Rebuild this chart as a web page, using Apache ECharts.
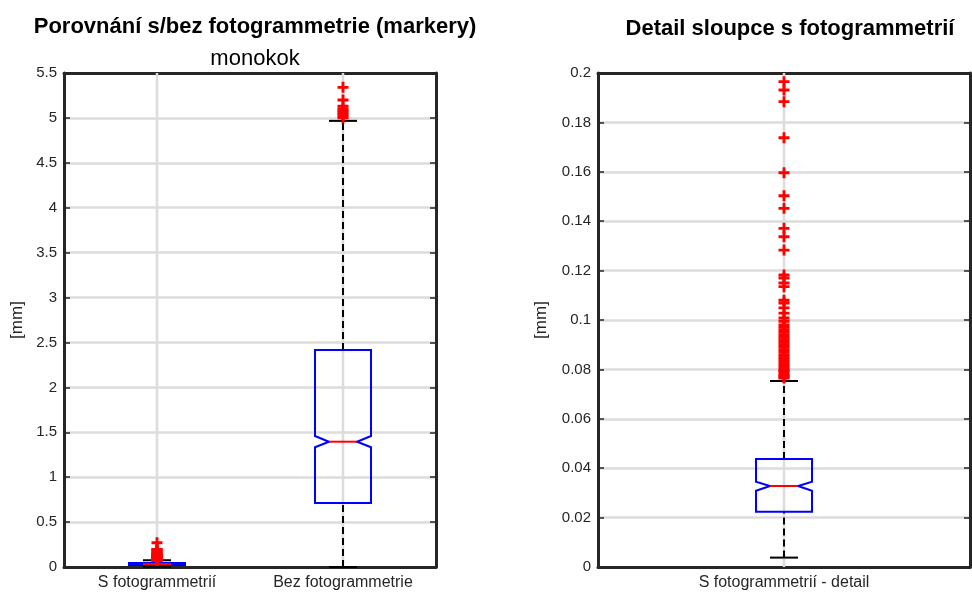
<!DOCTYPE html>
<html>
<head>
<meta charset="utf-8">
<title>Porovnání s/bez fotogrammetrie</title>
<script src="https://cdn.jsdelivr.net/npm/echarts@6/dist/echarts.min.js"></script>
<style>
  html, body { margin: 0; padding: 0; background: #fff; }
  #chart { width: 972px; height: 592px; }
</style>
</head>
<body>
<div id="chart"></div>
<script>
// kategorie
const leftCategories = ["S fotogrammetrií", "Bez fotogrammetrie"];
const rightCategories = ["S fotogrammetrií - detail"];

// popisky os y
const leftTicks = [0, 0.5, 1, 1.5, 2, 2.5, 3, 3.5, 4, 4.5, 5, 5.5];
const rightTicks = [0, 0.02, 0.04, 0.06, 0.08, 0.1, 0.12, 0.14, 0.16, 0.18, 0.2];

// [dolní vous, Q1, medián, Q3, horní vous]
const sFotoStats = [0.0038, 0.0224, 0.0328, 0.0437, 0.0753];
const bezFotoStats = [0, 0.713, 1.395, 2.416, 4.967];
// zářez (notch) [dolní, horní]
const sFotoNotch = [0.0309, 0.0345];
const bezFotoNotch = [1.333, 1.459];

// odlehlé hodnoty
const sFotoOutliers = [
  0.0765, 0.077, 0.0775, 0.078, 0.079, 0.0795, 0.08, 0.081, 0.082, 0.083,
  0.084, 0.085, 0.086, 0.087, 0.088, 0.089, 0.09, 0.091, 0.092, 0.093,
  0.094, 0.095, 0.096, 0.097, 0.098, 0.0995, 0.1008, 0.1028, 0.1049, 0.1069,
  0.108, 0.1135, 0.115, 0.117, 0.1182, 0.1283, 0.1337, 0.1371, 0.1452, 0.1503,
  0.1596, 0.1738, 0.1884, 0.1931, 0.1965, 0.27,
];
const bezFotoOutliers = [5.0, 5.02, 5.04, 5.06, 5.08, 5.1, 5.13, 5.2, 5.34];

const axisColor = "#262626";
const gridColor = "#dcdcdc";
const fontFamily = "Liberation Sans, Arial, sans-serif";
const boxHalf = 28; // polovina šířky krabice v px
const capHalf = 14; // polovina šířky konce vousu
// křížek jako symbol
const plusSymbol = "path://M3.7,0H6.3V3.7H10V6.3H6.3V10H3.7V6.3H0V3.7H3.7Z";

// vykreslení krabice se zářezem
function renderBox(params, api) {
  const cat = api.value(0);
  const low = api.coord([cat, api.value(1)]);
  const q1 = api.coord([cat, api.value(2)]);
  const med = api.coord([cat, api.value(3)]);
  const q3 = api.coord([cat, api.value(4)]);
  const high = api.coord([cat, api.value(5)]);
  const nLo = api.coord([cat, api.value(6)]);
  const nHi = api.coord([cat, api.value(7)]);
  const cx = med[0];
  const inner = boxHalf / 2;
  const cs = params.coordSys;
  const whisker = { stroke: "#000", lineWidth: 2, lineDash: [7, 4] };
  return {
    type: "group",
    children: [
      // svislá mřížka
      {
        type: "line",
        shape: { x1: cx, y1: cs.y, x2: cx, y2: cs.y + cs.height },
        style: { stroke: gridColor, lineWidth: 2.5 },
      },
      { type: "line", shape: { x1: cx, y1: q3[1], x2: cx, y2: high[1] }, style: whisker },
      { type: "line", shape: { x1: cx, y1: low[1], x2: cx, y2: q1[1] }, style: whisker },
      {
        type: "line",
        shape: { x1: cx - capHalf, y1: high[1], x2: cx + capHalf, y2: high[1] },
        style: { stroke: "#000", lineWidth: 2 },
      },
      {
        type: "line",
        shape: { x1: cx - capHalf, y1: low[1], x2: cx + capHalf, y2: low[1] },
        style: { stroke: "#000", lineWidth: 2 },
      },
      {
        type: "polygon",
        shape: {
          points: [
            [cx - boxHalf, q3[1]],
            [cx + boxHalf, q3[1]],
            [cx + boxHalf, nHi[1]],
            [cx + inner, med[1]],
            [cx + boxHalf, nLo[1]],
            [cx + boxHalf, q1[1]],
            [cx - boxHalf, q1[1]],
            [cx - boxHalf, nLo[1]],
            [cx - inner, med[1]],
            [cx - boxHalf, nHi[1]],
          ],
        },
        style: { fill: "none", stroke: "#0000ff", lineWidth: 2 },
      },
      {
        type: "line",
        shape: { x1: cx - inner, y1: med[1], x2: cx + inner, y2: med[1] },
        style: { stroke: "#ff0000", lineWidth: 2 },
      },
    ],
  };
}

function boxItem(cat, stats, notch) {
  return [cat].concat(stats, notch);
}

function outlierItems(cat, values) {
  return values.map(function (v) {
    return [cat, v];
  });
}

function catAxis(gridIndex, data, position, showLabel) {
  return {
    type: "category",
    gridIndex: gridIndex,
    position: position,
    data: data,
    axisLine: { show: true, onZero: false, lineStyle: { color: axisColor, width: 3 } },
    axisTick: { show: true, inside: true, length: 6, alignWithLabel: true, lineStyle: { color: axisColor, width: 1.5 } },
    axisLabel: { show: showLabel, color: axisColor, fontSize: 16, fontFamily: fontFamily, margin: 8 },
    splitLine: { show: false },
  };
}

function valAxis(gridIndex, ticks, position, main, nameGap) {
  return {
    type: "value",
    gridIndex: gridIndex,
    position: position,
    min: ticks[0],
    max: ticks[ticks.length - 1],
    interval: ticks[1] - ticks[0],
    name: main ? "[mm]" : "",
    nameLocation: "middle",
    nameGap: nameGap,
    nameTextStyle: { color: axisColor, fontSize: 17, fontFamily: fontFamily },
    axisLine: { show: true, onZero: false, lineStyle: { color: axisColor, width: 3 } },
    axisTick: { show: true, inside: true, length: 6, lineStyle: { color: axisColor, width: 1.5 } },
    axisLabel: { show: main, color: axisColor, fontSize: 15, fontFamily: fontFamily, margin: 7 },
    splitLine: { show: main, lineStyle: { color: gridColor, width: 2.5 } },
  };
}

let myChart = echarts.init(document.getElementById("chart"));
let option = {
  backgroundColor: "#fff",
  animation: false,
  title: [
    {
      text: "Porovnání s/bez fotogrammetrie (markery)",
      left: 250,
      top: 11,
      textAlign: "center",
      textStyle: { fontSize: 22, fontWeight: "bold", color: "#000", fontFamily: fontFamily },
    },
    {
      text: "monokok",
      left: 250,
      top: 43,
      textAlign: "center",
      textStyle: { fontSize: 22, fontWeight: "normal", color: "#000", fontFamily: fontFamily },
    },
    {
      text: "Detail sloupce s fotogrammetrií",
      left: 785,
      top: 13,
      textAlign: "center",
      textStyle: { fontSize: 22, fontWeight: "bold", color: "#000", fontFamily: fontFamily },
    },
  ],
  grid: [
    { left: 64, right: 536, top: 73, bottom: 25 },
    { left: 598, right: 2, top: 73, bottom: 25 },
  ],
  xAxis: [
    catAxis(0, leftCategories, "bottom", true),
    catAxis(0, leftCategories, "top", false),
    catAxis(1, rightCategories, "bottom", true),
    catAxis(1, rightCategories, "top", false),
  ],
  yAxis: [
    valAxis(0, leftTicks, "left", true, 38),
    valAxis(0, leftTicks, "right", false, 0),
    valAxis(1, rightTicks, "left", true, 48),
    valAxis(1, rightTicks, "right", false, 0),
  ],
  series: [
    {
      type: "custom",
      xAxisIndex: 0,
      yAxisIndex: 0,
      renderItem: renderBox,
      encode: { x: 0, y: [1, 2, 3, 4, 5, 6, 7] },
      data: [boxItem(0, sFotoStats, sFotoNotch), boxItem(1, bezFotoStats, bezFotoNotch)],
      z: 2,
    },
    {
      type: "scatter",
      xAxisIndex: 0,
      yAxisIndex: 0,
      symbol: plusSymbol,
      symbolSize: 11,
      itemStyle: { color: "#ff0000", opacity: 1 },
      clip: true,
      data: outlierItems(0, sFotoOutliers).concat(outlierItems(1, bezFotoOutliers)),
      z: 3,
    },
    {
      type: "custom",
      xAxisIndex: 2,
      yAxisIndex: 2,
      renderItem: renderBox,
      encode: { x: 0, y: [1, 2, 3, 4, 5, 6, 7] },
      data: [boxItem(0, sFotoStats, sFotoNotch)],
      z: 2,
    },
    {
      type: "scatter",
      xAxisIndex: 2,
      yAxisIndex: 2,
      symbol: plusSymbol,
      symbolSize: 11,
      itemStyle: { color: "#ff0000", opacity: 1 },
      clip: true,
      data: outlierItems(0, sFotoOutliers),
      z: 3,
    },
  ],
};
myChart.setOption(option);
</script>
</body>
</html>
